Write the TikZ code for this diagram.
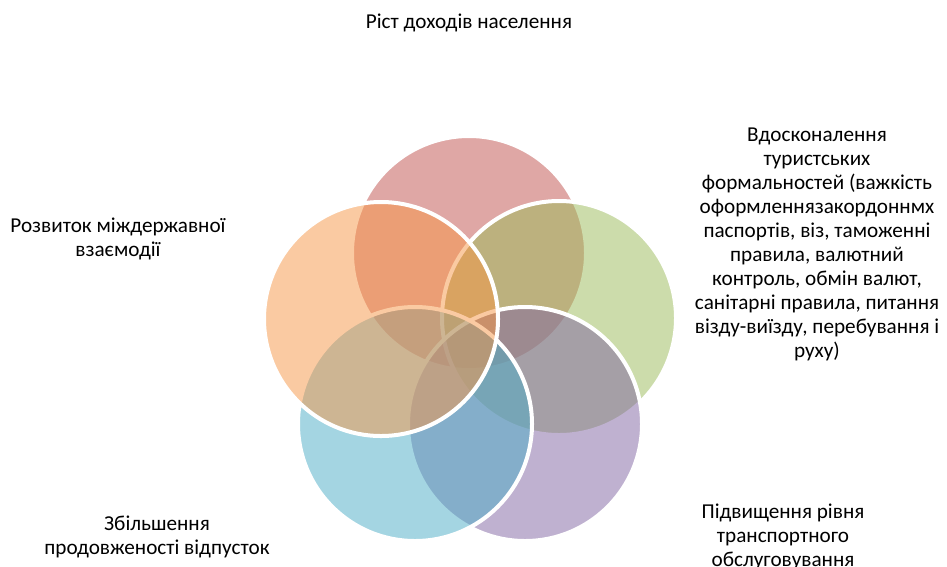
\documentclass[tikz,border=0pt]{standalone}
\usepackage{fontspec}
\setmainfont{Carlito}
\definecolor{cRed}{HTML}{C0504D}
\definecolor{cGreen}{HTML}{9BBB59}
\definecolor{cPurple}{HTML}{8064A2}
\definecolor{cBlue}{HTML}{4BACC6}
\definecolor{cOrange}{HTML}{F79646}
\begin{document}
\begin{tikzpicture}[x=1pt,y=-1pt,
  venn/.style={circle, minimum size=234pt, inner sep=0pt, outer sep=0pt, draw=white, line width=4pt, fill=#1, fill opacity=0.5, draw opacity=1},
  lbl/.style={align=center, inner sep=0pt, font=\fontsize{21.2}{24}\selectfont, text=black}]
\useasboundingbox[fill=white] (0,0) rectangle (947,566);
\node[venn=cRed] (red) at (469,253) {};
\node[venn=cGreen] (green) at (559,318) {};
\node[venn=cPurple] (purple) at (525,424) {};
\node[venn=cBlue] (blue) at (415,424) {};
\node[venn=cOrange] (orange) at (381,319) {};
\node[lbl] (t1) at (469,23) {Ріст доходів населення};
\node[lbl] (t2) at (817,244) {Вдосконалення\\туристських\\формальностей (важкість\\оформленнязакордоннмх\\паспортів, віз, таможенні\\правила, валютний\\контроль, обмін валют,\\санітарні правила, питання\\візду-виїзду, перебування і\\руху)};
\node[lbl] (t3) at (783,537) {Підвищення рівня\\транспортного\\обслуговування};
\node[lbl] (t4) at (157,537) {Збільшення\\продовженості відпусток};
\node[lbl] (t5) at (118,239) {Розвиток міждержавної\\взаємодії};
\end{tikzpicture}
\end{document}
